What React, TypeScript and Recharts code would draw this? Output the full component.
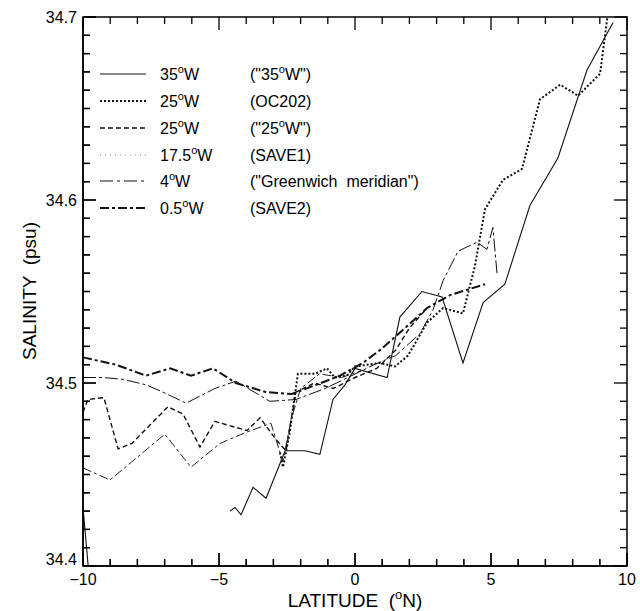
import React from "react";
import { LineChart, Line, XAxis, YAxis } from "recharts";

// latitude (°N) and salinity (psu), one pair of arrays per section
const lat35W = [-10, -9.81, -7, -4.6, -4.41, -4.19, -3.75, -3.27, -2.57, -1.84, -1.29, -0.81, -0.37, 0, 1.18, 1.65, 2.46, 3.2, 3.97, 4.71, 5.51, 6.43, 7.46, 8.53, 9.49];
const sal35W = [34.432, 34.4, null, 34.43, 34.432, 34.428, 34.443, 34.437, 34.463, 34.463, 34.461, 34.491, 34.499, 34.508, 34.503, 34.536, 34.55, 34.547, 34.511, 34.544, 34.554, 34.597, 34.623, 34.671, 34.697];

const latOC202 = [-2.76, -2.65, -2.4, -2.1, -1.47, -1.03, -0.74, -0.3, 0, 0.92, 1.47, 1.95, 2.65, 3.24, 3.97, 4.41, 4.78, 5.44, 6.14, 6.8, 7.54, 8.2, 9.01, 9.28];
const salOC202 = [34.462, 34.454, 34.473, 34.505, 34.505, 34.508, 34.503, 34.504, 34.509, 34.511, 34.509, 34.515, 34.533, 34.541, 34.538, 34.564, 34.595, 34.611, 34.617, 34.655, 34.663, 34.657, 34.669, 34.7];

const lat25W = [-10, -9.82, -9.23, -8.71, -8.2, -6.88, -6.32, -5.7, -5.15, -3.97, -3.49, -2.9, -2.54, -2.17, -1.5, -0.8, 0, 0.8, 1.5, 2.0, 2.65];
const sal25W = [34.484, 34.491, 34.492, 34.464, 34.467, 34.487, 34.483, 34.465, 34.479, 34.474, 34.481, 34.469, 34.463, 34.495, 34.5, 34.497, 34.503, 34.508, 34.518, 34.53, 34.541];

const latSAVE1 = [-10, -9.01, -6.99, -6.03, -4.96, -4.01, -3.09, -2.65, -2.35, -2.0, -1.3, -0.5, 0.3];
const salSAVE1 = [34.4536, 34.447, 34.472, 34.454, 34.467, 34.473, 34.478, 34.457, 34.48, 34.497, 34.505, 34.503, 34.507];

const latGreenwich = [-10, -9.26, -8.53, -7.68, -7.06, -6.21, -5.15, -4.38, -3.13, -2.17, -1.1, -0.26, 0.7, 1.5, 2.39, 2.87, 3.24, 3.79, 4.49, 4.85, 5.07, 5.22];
const salGreenwich = [34.503, 34.503, 34.502, 34.499, 34.495, 34.489, 34.497, 34.501, 34.49, 34.491, 34.497, 34.503, 34.51, 34.515, 34.527, 34.54, 34.556, 34.572, 34.577, 34.573, 34.585, 34.56];

const latSAVE2 = [-10, -8.79, -7.68, -6.8, -6.03, -5.22, -4.38, -3.27, -2.32, -1.43, -0.55, 0.29, 0.92, 1.84, 2.65, 3.49, 4.78];
const salSAVE2 = [34.514, 34.51, 34.504, 34.508, 34.504, 34.508, 34.5, 34.495, 34.494, 34.499, 34.504, 34.511, 34.518, 34.53, 34.541, 34.548, 34.554];

const longitudes = ["35", "25", "25", "17.5", "4", "0.5"];
const cruises = ['("35°W")', "(OC202)", '("25°W")', "(SAVE1)", '("Greenwich  meridian")', "(SAVE2)"];

const latTicks = [-10, -9, -8, -7, -6, -5, -4, -3, -2, -1, 0, 1, 2, 3, 4, 5, 6, 7, 8, 9, 10];
const latLabels = [-10, -5, 0, 5, 10];
const salTicks = Array.from({ length: 31 }, (_, i) => Math.round((34.4 + i * 0.01) * 100) / 100);
const salLabels = [34.4, 34.5, 34.6, 34.7];

const FONT = "'Liberation Sans', Arial, Helvetica, sans-serif";

// plot box (same as the chart margins + axis sizes below)
const PLOT = { left: 83, right: 627, top: 17, bottom: 566 };
const px = (lat: number) => PLOT.left + ((lat + 10) / 20) * (PLOT.right - PLOT.left);
const py = (sal: number) => PLOT.bottom - ((sal - 34.4) / 0.3) * (PLOT.bottom - PLOT.top);

const toPoints = (lat: number[], sal: (number | null)[]) => lat.map((x, i) => ({ x, y: sal[i] }));

const d35W = toPoints(lat35W, sal35W);
const dOC202 = toPoints(latOC202, salOC202);
const d25W = toPoints(lat25W, sal25W);
const dSAVE1 = toPoints(latSAVE1, salSAVE1);
const dGreenwich = toPoints(latGreenwich, salGreenwich);
const dSAVE2 = toPoints(latSAVE2, salSAVE2);

// legend sample styles, in legend order
const legendStyles = [
  { width: 1.1, dash: undefined, color: "#111" },
  { width: 2, dash: "2 2", color: "#111" },
  { width: 1.4, dash: "5 3", color: "#111" },
  { width: 1, dash: "1 4", color: "#888" },
  { width: 1, dash: "13 4 3 4", color: "#111" },
  { width: 2, dash: "9 3 3 3", color: "#111" },
];

const isMajorSal = (v: number) => salLabels.some((m) => Math.abs(m - v) < 1e-6);

const BottomTick = (props: any) => {
  const { x, y, payload } = props;
  const v = payload.value;
  const major = latLabels.includes(v);
  return (
    <g>
      <line x1={x} x2={x} y1={y} y2={y - (major ? 13 : 7)} stroke="#000" strokeWidth={1.3} />
      {major && (
        <text x={x} y={y + 19} textAnchor="middle" fontSize={16} fontFamily={FONT} fill="#000">
          {v < 0 ? `\u2212${-v}` : String(v)}
        </text>
      )}
    </g>
  );
};

const LeftTick = (props: any) => {
  const { x, y, payload } = props;
  const v = payload.value;
  const major = isMajorSal(v);
  return (
    <g>
      <line x1={x} x2={x + (major ? 13 : 7)} y1={y} y2={y} stroke="#000" strokeWidth={1.3} />
      {major && (
        <text x={x - 6} y={v < 34.45 ? y - 1 : y + 6} textAnchor="end" fontSize={16} fontFamily={FONT} fill="#000">
          {v.toFixed(1)}
        </text>
      )}
    </g>
  );
};

function Degree({ children }: { children: React.ReactNode }) {
  return (
    <>
      <tspan fontSize={11} dy={-7}>o</tspan>
      <tspan dy={7}>{children}</tspan>
    </>
  );
}

// frame with inward ticks on all four sides, legend and axis titles
function Overlay() {
  const rows = [74, 101, 128, 155, 181, 208];
  return (
    <svg width={640} height={611} style={{ position: "absolute", left: 0, top: 0, pointerEvents: "none", fontFamily: FONT }}>
      <rect x={PLOT.left} y={PLOT.top} width={PLOT.right - PLOT.left} height={PLOT.bottom - PLOT.top} fill="none" stroke="#000" strokeWidth={1.5} />
      {latTicks.map((v) => {
        const len = latLabels.includes(v) ? 13 : 7;
        return (
          <g key={`x${v}`}>
            <line x1={px(v)} x2={px(v)} y1={PLOT.bottom} y2={PLOT.bottom - len} stroke="#000" strokeWidth={1.3} />
            <line x1={px(v)} x2={px(v)} y1={PLOT.top} y2={PLOT.top + len} stroke="#000" strokeWidth={1.3} />
          </g>
        );
      })}
      {salTicks.map((v) => {
        const len = isMajorSal(v) ? 13 : 7;
        return (
          <g key={`y${v}`}>
            <line x1={PLOT.left} x2={PLOT.left + len} y1={py(v)} y2={py(v)} stroke="#000" strokeWidth={1.3} />
            <line x1={PLOT.right} x2={PLOT.right - len} y1={py(v)} y2={py(v)} stroke="#000" strokeWidth={1.3} />
          </g>
        );
      })}
      {legendStyles.map((s, i) => (
        <g key={i}>
          <line x1={100} x2={146} y1={rows[i]} y2={rows[i]} stroke={s.color} strokeWidth={s.width} strokeDasharray={s.dash} />
          <text x={160} y={rows[i] + 6} fontSize={16} fill="#000">
            {longitudes[i]}
            <Degree>W</Degree>
          </text>
          <text x={250} y={rows[i] + 6} fontSize={16} fill="#000" xmlSpace="preserve">
            {cruises[i].includes("°") ? (
              <>
                {cruises[i].split("°")[0]}
                <Degree>{cruises[i].split("°")[1]}</Degree>
              </>
            ) : (
              cruises[i]
            )}
          </text>
        </g>
      ))}
      <text x={355} y={607} textAnchor="middle" fontSize={19} fill="#000" xmlSpace="preserve">
        {"LATITUDE  ("}
        <tspan fontSize={13} dy={-8}>o</tspan>
        <tspan dy={8}>N)</tspan>
      </text>
      <text x={36} y={291} textAnchor="middle" fontSize={19} fill="#000" transform="rotate(-90 36 291)" xmlSpace="preserve">
        {"SALINITY  (psu)"}
      </text>
    </svg>
  );
}

export default function App() {
  return (
    <div style={{ position: "absolute", left: 0, top: 0, width: 640, height: 611, background: "#fff", fontFamily: FONT }}>
      <Overlay />
      <LineChart width={640} height={611} margin={{ top: 17, right: 13, left: 0, bottom: 0 }}>
        <XAxis xAxisId="b" orientation="bottom" type="number" dataKey="x" domain={[-10, 10]} ticks={latTicks} interval={0}
          height={45} tickSize={0} tickMargin={0} tickLine={false} axisLine={{ stroke: "#000", strokeWidth: 1.5 }} tick={<BottomTick />} />
        <YAxis yAxisId="l" orientation="left" type="number" domain={[34.4, 34.7]} ticks={salTicks} interval={0}
          width={83} tickSize={0} tickMargin={0} tickLine={false} axisLine={{ stroke: "#000", strokeWidth: 1.5 }} tick={<LeftTick />} />
        <Line xAxisId="b" yAxisId="l" data={d35W} dataKey="y" type="linear" stroke="#111" strokeWidth={1.1}
          dot={false} activeDot={false} isAnimationActive={false} connectNulls={false} />
        <Line xAxisId="b" yAxisId="l" data={dOC202} dataKey="y" type="linear" stroke="#111" strokeWidth={2} strokeDasharray="2 2"
          dot={false} activeDot={false} isAnimationActive={false} />
        <Line xAxisId="b" yAxisId="l" data={d25W} dataKey="y" type="linear" stroke="#111" strokeWidth={1.4} strokeDasharray="5 3"
          dot={false} activeDot={false} isAnimationActive={false} />
        <Line xAxisId="b" yAxisId="l" data={dSAVE1} dataKey="y" type="linear" stroke="#222" strokeWidth={1} strokeDasharray="9 3 3 3"
          dot={false} activeDot={false} isAnimationActive={false} />
        <Line xAxisId="b" yAxisId="l" data={dGreenwich} dataKey="y" type="linear" stroke="#111" strokeWidth={1} strokeDasharray="13 3 3 3"
          dot={false} activeDot={false} isAnimationActive={false} />
        <Line xAxisId="b" yAxisId="l" data={dSAVE2} dataKey="y" type="linear" stroke="#111" strokeWidth={2} strokeDasharray="9 3 3 3"
          dot={false} activeDot={false} isAnimationActive={false} />
      </LineChart>
    </div>
  );
}
